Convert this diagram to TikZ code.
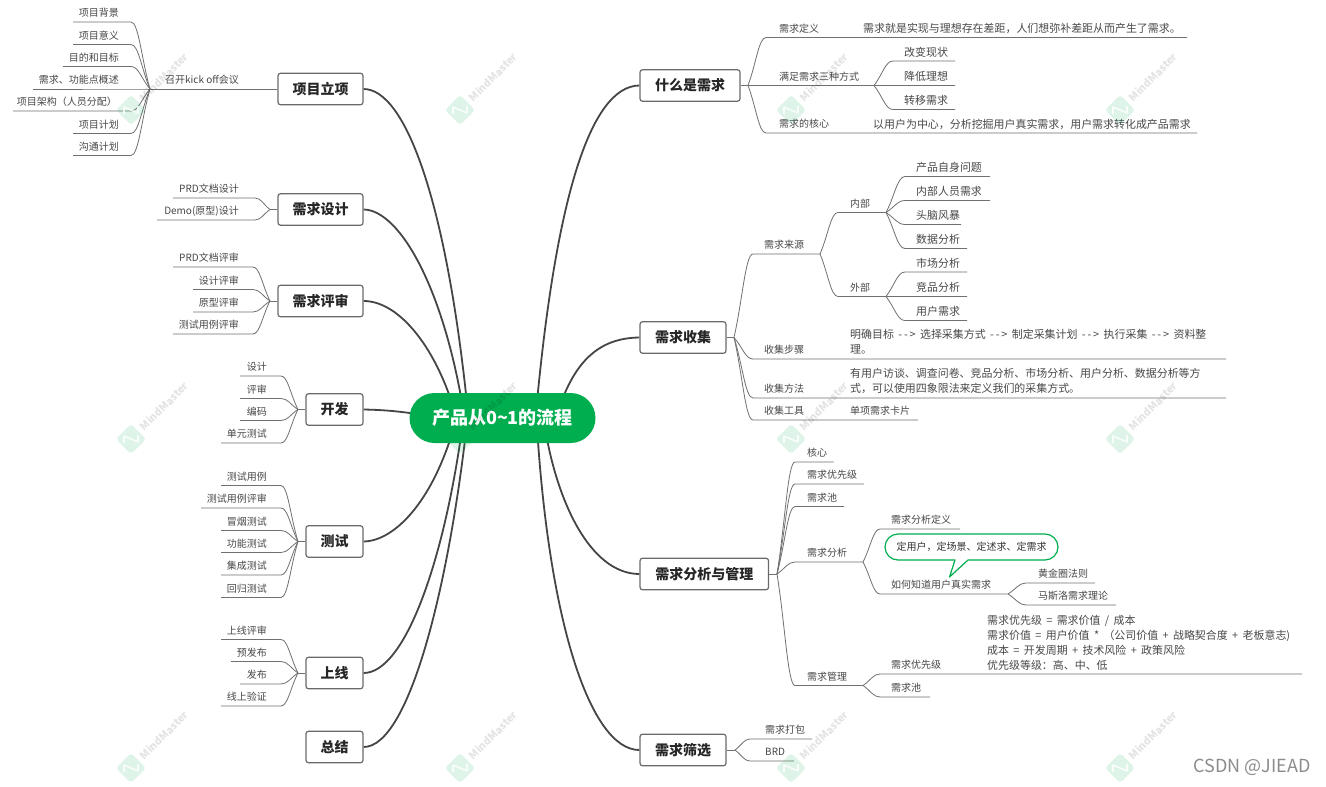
\documentclass[tikz,border=0pt]{standalone}
\usepackage{fontspec}
\setmainfont{Noto Sans CJK SC}
\usetikzlibrary{calc,backgrounds}
\definecolor{rootgreen}{HTML}{00AE50}
\definecolor{darkline}{HTML}{454545}
\definecolor{thinline}{HTML}{707070}
\definecolor{txt}{HTML}{484848}
\newcommand{\widesp}{\spaceskip=.4em\relax}
\tikzset{
  mainbox/.style={draw=darkline!80,line width=1.2pt,rounded corners=2.5pt,fill=white,inner sep=0pt,
    minimum height=31.5pt,text=black!85,font=\fontsize{14}{16}\selectfont\bfseries},
  maincurve/.style={draw=darkline,line width=1.8pt},
  branch/.style={draw=thinline,line width=0.8pt},
  lf/.style={text=txt,inner sep=0pt,font=\fontsize{10}{12}\selectfont},
  lg/.style={text=txt,inner sep=0pt,font=\fontsize{10.95}{15}\selectfont,align=left,execute at begin node=\widesp},
  L/.style={anchor=west},
  R/.style={anchor=east},
  wmtext/.style={text=black,opacity=0.11,rotate=45,font=\fontsize{10.5}{12}\selectfont\bfseries,inner sep=0pt},
}
% [size style] hub, name, corner x, y, end x, anchor style, text x, text
\newcommand{\bl}[9][lf]{%
  \coordinate (#3c) at (#4,#5);
  \coordinate (#3e) at (#6,#5);
  \draw[branch] (#2) .. controls ($(#2)!0.45!(#3c)$) and ($(#2|-#3c)!0.6!(#3c)$) .. (#3c) -- (#3e);
  \node[#1,#7,yshift=9pt] (#3) at (#8,#5) {#9};%
}
\begin{document}
\begin{tikzpicture}[x=1pt,y=-1pt]
\useasboundingbox (0,0) rectangle (1326,787);
% root and main topics
\node[fill=rootgreen,rounded corners=25pt,minimum width=186pt,minimum height=50pt,inner sep=0pt,text=white,
  font=\fontsize{18}{20}\selectfont\bfseries] (root) at (502.5,418) {产品从0\textasciitilde 1的流程};
\node[mainbox,minimum width=85pt] (a1) at (320.5,89) {项目立项};
\node[mainbox,minimum width=85pt] (a2) at (320.5,209.5) {需求设计};
\node[mainbox,minimum width=85pt] (a3) at (320.5,301) {需求评审};
\node[mainbox,minimum width=57pt] (a4) at (334.5,409.5) {开发};
\node[mainbox,minimum width=57pt] (a5) at (334.5,541.5) {测试};
\node[mainbox,minimum width=57pt] (a6) at (334.5,673) {上线};
\node[mainbox,minimum width=57pt] (a7) at (334.5,747) {总结};
\node[mainbox,minimum width=100pt] (b1) at (690,85.5) {什么是需求};
\node[mainbox,minimum width=86pt] (b2) at (683,337.5) {需求收集};
\node[mainbox,minimum width=128.5pt] (b3) at (704.3,574) {需求分析与管理};
\node[mainbox,minimum width=86pt] (b4) at (683,750) {需求筛选};
\begin{scope}[on background layer]
\fill[white] (0,0) rectangle (1326,787);
\draw[maincurve] (a1.east) .. controls (405,89) and (447,200) .. ($(root.center)+(-34,0)$);
\draw[maincurve] (a2.east) .. controls (400,210) and (445,290) .. ($(root.center)+(-38,0)$);
\draw[maincurve] (a3.east) .. controls (400,301) and (438,350) .. ($(root.center)+(-46,0)$);
\draw[maincurve] (a4.east) .. controls (385,410) and (398,411) .. ($(root.center)+(-72,-2)$);
\draw[maincurve] (a5.east) .. controls (395,541) and (435,500) .. ($(root.center)+(-46,0)$);
\draw[maincurve] (a6.east) .. controls (405,673) and (445,560) .. ($(root.center)+(-39,0)$);
\draw[maincurve] (a7.east) .. controls (410,747) and (450,580) .. ($(root.center)+(-35,0)$);
\draw[maincurve] (b1.west) .. controls (590,86) and (555,200) .. ($(root.center)+(33,0)$);
\draw[maincurve] (b2.west) .. controls (600,338) and (575,360) .. ($(root.center)+(56,-8)$);
\draw[maincurve] (b3.west) .. controls (590,574) and (555,500) .. ($(root.center)+(41,0)$);
\draw[maincurve] (b4.west) .. controls (590,750) and (548,620) .. ($(root.center)+(34,0)$);
\end{scope}
% ---------- left side ----------
\coordinate (ha1) at (150,89);
\draw[branch] (a1.west) -- (ha1);
\node[lf,L] (kick) at (165,80) {召开kick off会议};
\bl{ha1}{c1}{131}{22}{73}{R}{119}{项目背景}
\bl{ha1}{c2}{131}{44.5}{73}{R}{119}{项目意义}
\bl{ha1}{c3}{131}{66.5}{63}{R}{119}{目的和目标}
\bl{ha1}{c4}{131}{89}{33}{R}{119}{需求、功能点概述}
\bl{ha1}{c5}{131}{111}{13}{R}{117}{项目架构（人员分配）}
\bl{ha1}{c6}{131}{133.5}{73}{R}{119}{项目计划}
\bl{ha1}{c7}{131}{155.5}{73}{R}{119}{沟通计划}

\coordinate (ha2) at (270,209.5);
\draw[branch] (a2.west) -- (ha2);
\bl{ha2}{d1}{255}{198}{173}{R}{239}{PRD文档设计}
\bl{ha2}{d2}{255}{220}{157}{R}{239}{Demo(原型)设计}

\coordinate (ha3) at (270,301);
\draw[branch] (a3.west) -- (ha3);
\bl{ha3}{e1}{253}{267}{173}{R}{239}{PRD文档评审}
\bl{ha3}{e2}{253}{289.5}{193}{R}{239}{设计评审}
\bl{ha3}{e3}{253}{312}{193}{R}{239}{原型评审}
\bl{ha3}{e4}{253}{334}{173}{R}{239}{测试用例评审}

\coordinate (ha4) at (298,409.5);
\draw[branch] (a4.west) -- (ha4);
\bl{ha4}{f1}{281}{376}{240}{R}{267}{设计}
\bl{ha4}{f2}{281}{398.5}{240}{R}{267}{评审}
\bl{ha4}{f3}{281}{420.5}{240}{R}{267}{编码}
\bl{ha4}{f4}{281}{443}{221}{R}{267}{单元测试}

\coordinate (ha5) at (298,541.5);
\draw[branch] (a5.west) -- (ha5);
\bl{ha5}{g1}{281}{485.5}{221}{R}{267}{测试用例}
\bl{ha5}{g2}{281}{508}{201}{R}{267}{测试用例评审}
\bl{ha5}{g3}{281}{530.5}{221}{R}{267}{冒烟测试}
\bl{ha5}{g4}{281}{552.5}{221}{R}{267}{功能测试}
\bl{ha5}{g5}{281}{575}{221}{R}{267}{集成测试}
\bl{ha5}{g6}{281}{597.5}{221}{R}{267}{回归测试}

\coordinate (ha6) at (298,673);
\draw[branch] (a6.west) -- (ha6);
\bl{ha6}{i1}{281}{639.5}{221}{R}{267}{上线评审}
\bl{ha6}{i2}{281}{661.5}{231}{R}{267}{预发布}
\bl{ha6}{i3}{281}{684}{240}{R}{267}{发布}
\bl{ha6}{i4}{281}{706}{221}{R}{267}{线上验证}

% ---------- 什么是需求 ----------
\coordinate (hb1) at (748,85.5);
\draw[branch] (b1.east) -- (hb1);
\bl{hb1}{j1}{766}{37.5}{1187}{L}{779}{需求定义}
\bl{hb1}{j2}{766}{85.5}{874}{L}{779}{满足需求三种方式}
\bl{hb1}{j3}{766}{133}{1197}{L}{779}{需求的核心}
\node[lg,L] (j1t) at (863,28) {需求就是实现与理想存在差距，人们想弥补差距从而产生了需求。};
\node[lg,L] (j3t) at (873,124) {以用户为中心，分析挖掘用户真实需求，用户需求转化成产品需求};
\bl[lg]{j2e}{k1}{893}{61}{955}{L}{904}{改变现状}
\bl[lg]{j2e}{k2}{893}{85.5}{955}{L}{904}{降低理想}
\bl[lg]{j2e}{k3}{893}{109.5}{955}{L}{904}{转移需求}

% ---------- 需求收集 ----------
\coordinate (hb2) at (734,337.5);
\draw[branch] (b2.east) -- (hb2);
\bl{hb2}{m1}{753}{254}{820}{L}{764}{需求来源}
\bl{hb2}{m2}{753}{359}{1226}{L}{764}{收集步骤}
\bl{hb2}{m3}{753}{398}{1226}{L}{764}{收集方法}
\bl{hb2}{m4}{753}{420}{918}{L}{764}{收集工具}
\node[lg,L] (m2t) at (850,342) {明确目标 -\,-\,> 选择采集方式 -\,-\,> 制定采集计划 -\,-\,> 执行采集 -\,-\,> 资料整\\理。};
\node[lg,L] (m3t) at (850,381) {有用户访谈、调查问卷、竞品分析、市场分析、用户分析、数据分析等方\\式，可以使用四象限法来定义我们的采集方式。};
\node[lf,L] (m4t) at (850,411) {单项需求卡片};
\bl{m1e}{n1}{838}{212.5}{886}{L}{850}{内部}
\bl{m1e}{n2}{838}{296.5}{886}{L}{850}{外部}
\bl[lg]{n1e}{o1}{905}{176.5}{990}{L}{916}{产品自身问题}
\bl[lg]{n1e}{o2}{905}{200.5}{990}{L}{916}{内部人员需求}
\bl[lg]{n1e}{o3}{905}{224.5}{961}{L}{916}{头脑风暴}
\bl[lg]{n1e}{o4}{905}{248.5}{967}{L}{916}{数据分析}
\bl[lg]{n2e}{o5}{905}{272}{967}{L}{916}{市场分析}
\bl[lg]{n2e}{o6}{905}{296.5}{967}{L}{916}{竞品分析}
\bl[lg]{n2e}{o7}{905}{320.5}{967}{L}{916}{用户需求}

% ---------- 需求分析与管理 ----------
\coordinate (hb3) at (777,574);
\draw[branch] (b3.east) -- (hb3);
\bl{hb3}{p1}{795}{462}{833.5}{L}{807}{核心}
\bl{hb3}{p2}{795}{484}{864}{L}{807}{需求优先级}
\bl{hb3}{p3}{795}{506.5}{844}{L}{807}{需求池}
\bl{hb3}{p4}{795}{562}{863}{L}{807}{需求分析}
\bl{hb3}{p5}{795}{685.5}{863}{L}{807}{需求管理}
\bl{p4e}{q1}{880}{529}{960}{L}{891}{需求分析定义}
\bl{p4e}{q2}{880}{594}{1008}{L}{891}{如何知道用户真实需求}
\bl{q2e}{r1}{1026}{583}{1095}{L}{1038}{黄金圈法则}
\bl{q2e}{r2}{1026}{605}{1116}{L}{1038}{马斯洛需求理论}
\bl{p5e}{s1}{880}{674}{1302}{L}{891}{需求优先级}
\bl{p5e}{s2}{880}{697}{930}{L}{891}{需求池}
\node[lg,L] (s1t) at (987,642.5) {需求优先级 = 需求价值 / 成本\\需求价值 = 用户价值 * （公司价值 + 战略契合度 + 老板意志)\\成本 = 开发周期 + 技术风险 + 政策风险\\优先级等级：高、中、低};
% callout
\draw[rootgreen,line width=1.2pt,fill=white,line join=round]
  (898,534) -- (1045,534) arc[start angle=90,end angle=-90,radius=13pt] -- (968,560) -- (949.5,577) -- (955,560) -- (898,560) arc[start angle=270,end angle=90,radius=13pt] -- cycle;
\node[lf,text=black!80] (call) at (971.5,547) {定用户，定场景、定述求、定需求};

% ---------- 需求筛选 ----------
\coordinate (hb4) at (735,750);
\draw[branch] (b4.east) -- (hb4);
\bl{hb4}{t1}{750}{739}{812}{L}{765}{需求打包}
\bl{hb4}{t2}{750}{761}{794}{L}{765}{BRD}

% ---------- watermarks ----------
\foreach \wx/\wy [count=\wi] in {131/110,460/110,791/110,1120/110,131/439,460/439,791/439,1120/439,131/768,460/768,791/768,1120/768}{
  \begin{scope}[shift={(\wx,\wy)}]
    \fill[rootgreen,opacity=0.13,rounded corners=3pt] (-15,0) -- (0,-15) -- (15,0) -- (0,15) -- cycle;
    \ifnum\wi=6\relax\else
    \draw[white,opacity=0.8,line width=1.6pt,line join=round] (-7,4) -- (-7,-3) -- (7,3) -- (7,-4);
    \fi
  \end{scope}
  \node[wmtext] (wm\wi) at (\wx+33,\wy-33) {MindMaster};
}
\node[inner sep=0pt,anchor=east,text=black!45,font=\fontsize{18}{20}\selectfont] (csdn) at (1311,767) {CSDN @JIEAD};
\end{tikzpicture}
\end{document}
